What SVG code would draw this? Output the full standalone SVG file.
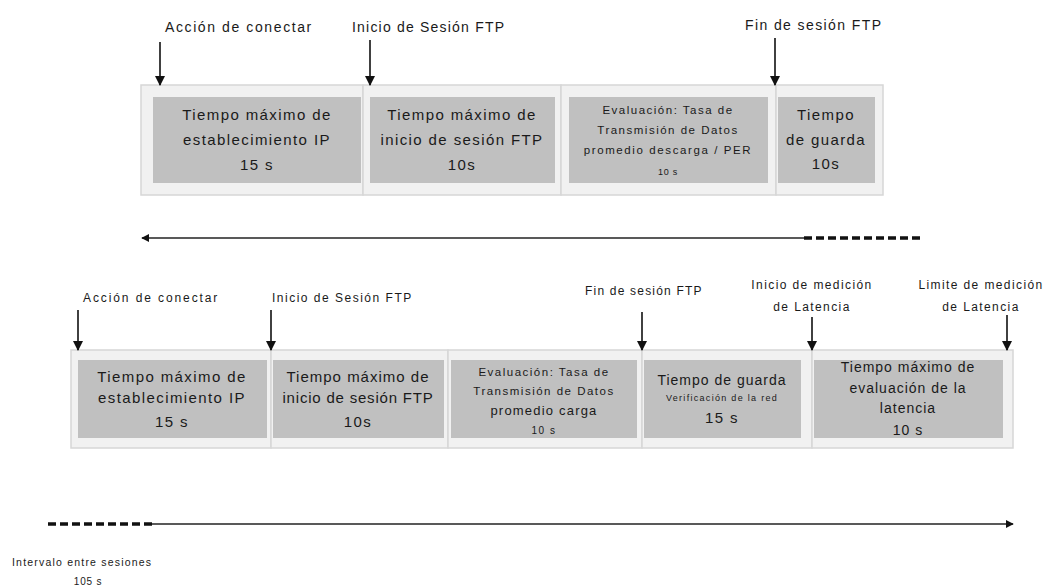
<svg xmlns="http://www.w3.org/2000/svg" width="1052" height="587" viewBox="0 0 1052 587">
<style>
  text { font-family: "Liberation Sans", Arial, sans-serif; fill: #1a1a1a; }
  .lbl { font-size: 14px; letter-spacing: 1.6px; }
  .lb2 { font-size: 12px; letter-spacing: 1.4px; }
  .bt { font-size: 15px; letter-spacing: 1.4px; text-anchor: middle; }
  .bs { font-size: 11.5px; letter-spacing: 1.5px; text-anchor: middle; }
  .bxs { font-size: 9px; letter-spacing: 0.8px; text-anchor: middle; }
  .cell { fill: #f1f1f1; stroke: #d6d6d6; stroke-width: 1.5; }
  .inner { fill: #c0c0c0; }
  .vline { stroke: #111; stroke-width: 1.6; fill: none; }
  .hline { stroke: #222; stroke-width: 1.6; fill: none; }
  .dash { stroke: #111; stroke-width: 3.5; stroke-dasharray: 8 4; fill: none; }
</style>
<defs>
  <marker id="tri" viewBox="0 0 10 10" refX="9" refY="5" markerWidth="6.5" markerHeight="6.5" orient="auto" markerUnits="strokeWidth">
    <path d="M0,0 L10,5 L0,10 Z" fill="#111"/>
  </marker>
  <marker id="small" viewBox="0 0 10 10" refX="9" refY="5" markerWidth="5" markerHeight="5" orient="auto" markerUnits="strokeWidth">
    <path d="M0,0 L10,5 L0,10 Z" fill="#111"/>
  </marker>
</defs>

<!-- Top row -->
<g id="top-cell1">
  <rect class="cell" x="141" y="85" width="222" height="110"/>
  <rect class="inner" x="153" y="97" width="208" height="86"/>
  <text class="bt" x="257" y="120">Tiempo máximo de</text>
  <text class="bt" x="257" y="145">establecimiento IP</text>
  <text class="bt" x="257" y="170">15 s</text>
</g>
<g id="top-cell2">
  <rect class="cell" x="363" y="85" width="198" height="110"/>
  <rect class="inner" x="370" y="97" width="185" height="86"/>
  <text class="bt" x="462" y="120">Tiempo máximo de</text>
  <text class="bt" x="462" y="145">inicio de sesión FTP</text>
  <text class="bt" x="462" y="170">10s</text>
</g>
<g id="top-cell3">
  <rect class="cell" x="561" y="85" width="215" height="110"/>
  <rect class="inner" x="569" y="97" width="199" height="86"/>
  <text class="bs" x="668" y="114">Evaluación: Tasa de</text>
  <text class="bs" x="668" y="134">Transmisión de Datos</text>
  <text class="bs" x="668" y="154" style="letter-spacing:1.6px">promedio descarga / PER</text>
  <text class="bxs" x="668" y="175">10 s</text>
</g>
<g id="top-cell4">
  <rect class="cell" x="776" y="85" width="107" height="110"/>
  <rect class="inner" x="778" y="97" width="97" height="86"/>
  <text class="bt" x="826" y="120">Tiempo</text>
  <text class="bt" x="826" y="145">de guarda</text>
  <text class="bt" x="826" y="169">10s</text>
</g>

<g id="top-labels">
  <text class="lbl" x="165" y="32">Acción de conectar</text>
  <text class="lbl" x="352" y="32" style="letter-spacing:1.2px">Inicio de Sesión FTP</text>
  <text class="lbl" x="745" y="30" style="letter-spacing:1.4px">Fin de sesión FTP</text>
</g>

<!-- Bottom row -->
<g id="bot-cell1">
  <rect class="cell" x="71" y="350" width="200" height="98"/>
  <rect class="inner" x="78" y="360" width="189" height="78"/>
  <text class="bt" x="172" y="382">Tiempo máximo de</text>
  <text class="bt" x="172" y="403">establecimiento IP</text>
  <text class="bt" x="172" y="427">15 s</text>
</g>
<g id="bot-cell2">
  <rect class="cell" x="271" y="350" width="177" height="98"/>
  <rect class="inner" x="273" y="360" width="171" height="78"/>
  <text class="bt" x="358" y="382" style="letter-spacing:1px">Tiempo máximo de</text>
  <text class="bt" x="358" y="403" style="letter-spacing:0.8px">inicio de sesión FTP</text>
  <text class="bt" x="358" y="427">10s</text>
</g>
<g id="bot-cell3">
  <rect class="cell" x="448" y="350" width="194" height="98"/>
  <rect class="inner" x="451" y="360" width="186" height="78"/>
  <text class="bs" x="544" y="376">Evaluación: Tasa de</text>
  <text class="bs" x="544" y="395">Transmisión de Datos</text>
  <text class="bt" x="544" y="415" style="font-size:13px;letter-spacing:1.2px">promedio carga</text>
  <text class="bs" x="544" y="434" style="font-size:10px">10 s</text>
</g>
<g id="bot-cell4">
  <rect class="cell" x="642" y="350" width="170" height="98"/>
  <rect class="inner" x="644" y="360" width="157" height="78"/>
  <text class="bt" x="722" y="385" style="font-size:14px;letter-spacing:1px">Tiempo de guarda</text>
  <text class="bxs" x="722" y="401" style="letter-spacing:1.3px">Verificación de la red</text>
  <text class="bt" x="722" y="423">15 s</text>
</g>
<g id="bot-cell5">
  <rect class="cell" x="812" y="350" width="201" height="98"/>
  <rect class="inner" x="814" y="360" width="189" height="78"/>
  <text class="bt" x="908" y="372" style="font-size:14px;letter-spacing:1px">Tiempo máximo de</text>
  <text class="bt" x="908" y="393" style="font-size:14px;letter-spacing:1px">evaluación de la</text>
  <text class="bt" x="908" y="413" style="font-size:14px;letter-spacing:1px">latencia</text>
  <text class="bt" x="908" y="435" style="font-size:14px;letter-spacing:1px">10 s</text>
</g>

<g id="bot-labels">
  <text class="lb2" x="83" y="302" style="letter-spacing:1.9px">Acción de conectar</text>
  <text class="lb2" x="272" y="302" style="letter-spacing:1.5px">Inicio de Sesión FTP</text>
  <text class="lb2" x="585" y="295" style="letter-spacing:1.2px">Fin de sesión FTP</text>
  <text class="lb2" x="812" y="289" text-anchor="middle">Inicio de medición</text>
  <text class="lb2" x="812" y="311" text-anchor="middle">de Latencia</text>
  <text class="lb2" x="981" y="289" text-anchor="middle">Limite de medición</text>
  <text class="lb2" x="981" y="311" text-anchor="middle">de Latencia</text>
  <text class="lb2" x="12" y="566" style="font-size:10.5px;letter-spacing:1.2px">Intervalo entre sesiones</text>
  <text class="lb2" x="88" y="585" text-anchor="middle" style="font-size:10px;letter-spacing:0.8px">105 s</text>
</g>

<g id="connectors">
  <line class="vline" x1="160" y1="42" x2="160" y2="85" marker-end="url(#tri)"/>
  <line class="vline" x1="370" y1="40" x2="370" y2="85" marker-end="url(#tri)"/>
  <line class="vline" x1="775" y1="38" x2="775" y2="85" marker-end="url(#tri)"/>

  <line class="vline" x1="78" y1="310" x2="78" y2="350" marker-end="url(#tri)"/>
  <line class="vline" x1="271" y1="310" x2="271" y2="350" marker-end="url(#tri)"/>
  <line class="vline" x1="642" y1="312" x2="642" y2="350" marker-end="url(#tri)"/>
  <line class="vline" x1="812" y1="317" x2="812" y2="350" marker-end="url(#tri)"/>
  <line class="vline" x1="1007" y1="315" x2="1007" y2="350" marker-end="url(#tri)"/>

  <line class="hline" x1="804" y1="238" x2="142" y2="238" marker-end="url(#small)"/>
  <line class="dash" x1="804" y1="238" x2="922" y2="238"/>

  <line class="dash" x1="48" y1="524" x2="152" y2="524"/>
  <line class="hline" x1="152" y1="524" x2="1013" y2="524" marker-end="url(#small)"/>
</g>
</svg>
